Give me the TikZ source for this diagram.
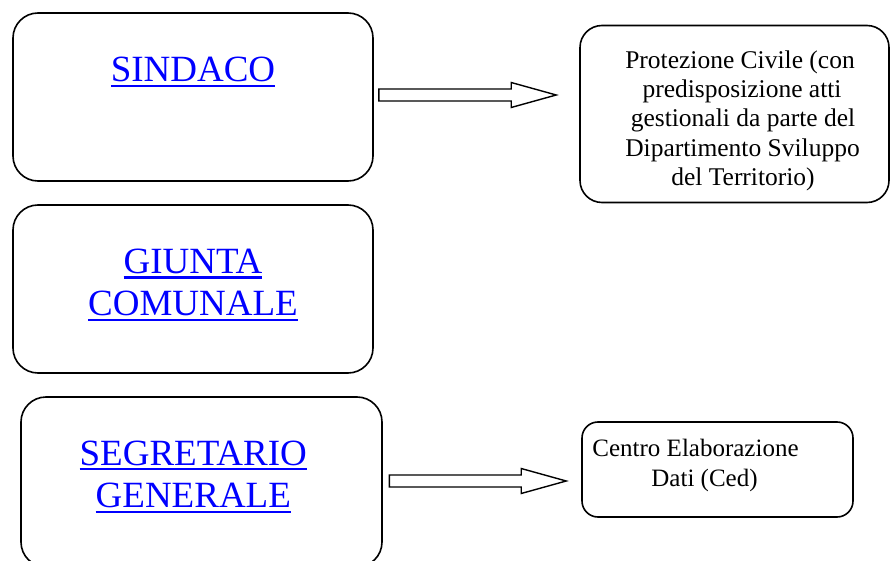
\documentclass[tikz,border=0pt]{standalone}
\usepackage{fontspec}
\setmainfont{Liberation Serif}
\usetikzlibrary{calc}
\definecolor{linkblue}{RGB}{0,0,255}
\newcommand\ulink[1]{\setbox0\hbox{#1}\rlap{\rule[-5.4pt]{\wd0}{2.2pt}}\box0}
\begin{document}
\begin{tikzpicture}[x=1pt,y=-1pt,
  box/.style={draw=black, line width=1.6pt, rounded corners=#1, inner sep=0pt, fill=white},
  box/.default=25pt,
  bigtxt/.style={anchor=base, inner sep=0pt, text=linkblue, font=\fontsize{37}{42.5}\selectfont},
  smalltxt/.style={anchor=base, inner sep=0pt, text=black, font=\fontsize{25.5}{29.3}\selectfont},
  blockarrow/.style={draw=black, fill=white, line width=1.4pt, line join=miter}]
\useasboundingbox (0,0) rectangle (891,561);

% boxes
\node[box, minimum width=360pt, minimum height=168pt] (sindaco) at (193,97) {};
\node[box, minimum width=360pt, minimum height=168pt] (giunta) at (193,289) {};
\node[box, minimum width=361pt, minimum height=170pt] (segr) at (201.5,482) {};
\node[box=22pt, minimum width=309pt, minimum height=177pt] (prot) at (734.5,114) {};
\node[box=16pt, minimum width=271pt, minimum height=95pt] (ced) at (717.5,469.5) {};

% texts
\node[bigtxt] (tsind) at (193,82) {\ulink{SINDACO}};
\node[bigtxt] (tgiu1) at (193,273.3) {\ulink{GIUNTA}};
\node[bigtxt] (tgiu2) at (193,315.3) {\ulink{COMUNALE}};
\node[bigtxt] (tseg1) at (193.3,465) {\ulink{SEGRETARIO}};
\node[bigtxt] (tseg2) at (193.3,507.5) {\ulink{GENERALE}};

\node[smalltxt] (tp1) at (740,68.3) {Protezione Civile (con};
\node[smalltxt] (tp2) at (742,97.6) {predisposizione atti};
\node[smalltxt] (tp3) at (743,126.9) {gestionali da parte del};
\node[smalltxt] (tp4) at (742.5,156.2) {Dipartimento Sviluppo};
\node[smalltxt] (tp5) at (743,185.5) {del Territorio)};

\node[smalltxt, font=\fontsize{25}{29}\selectfont] (tc1) at (695.5,456.7) {Centro Elaborazione};
\node[smalltxt, font=\fontsize{25}{29}\selectfont] (tc2) at (704.5,486) {Dati (Ced)};

% block arrows
\coordinate (a1s) at ($(sindaco.east)+(5,-2)$);
\coordinate (a1e) at ($(prot.west)+(-23,-19)$);
\draw[blockarrow] ($(a1s)+(0,-6)$) -- ($(a1e)+(-45,-6)$) -- ($(a1e)+(-45,-12.5)$) -- (a1e)
  -- ($(a1e)+(-45,12.5)$) -- ($(a1e)+(-45,6)$) -- ($(a1s)+(0,6)$) -- cycle;

\coordinate (a2s) at ($(segr.east)+(6.5,-1)$);
\coordinate (a2e) at ($(ced.west)+(-15,11.5)$);
\draw[blockarrow] ($(a2s)+(0,-6)$) -- ($(a2e)+(-45,-6)$) -- ($(a2e)+(-45,-12.5)$) -- (a2e)
  -- ($(a2e)+(-45,12.5)$) -- ($(a2e)+(-45,6)$) -- ($(a2s)+(0,6)$) -- cycle;
\end{tikzpicture}
\end{document}
